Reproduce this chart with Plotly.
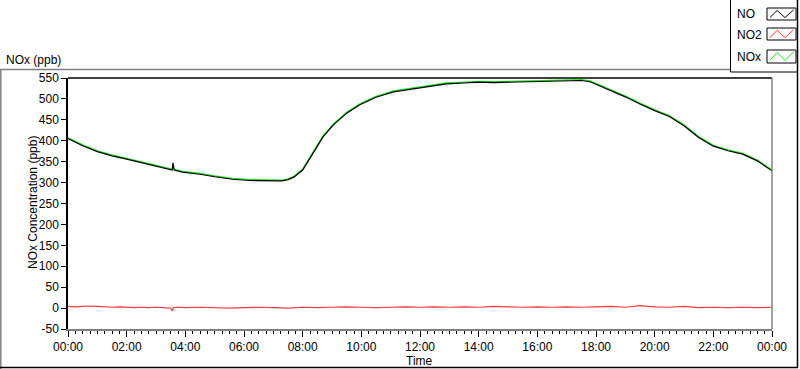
import pandas as pd
import plotly.graph_objects as go

# ---------------- data ----------------
no_hours = [0.0, 0.5, 1.0, 1.5, 2.0, 2.5, 2.8, 3.2, 3.55, 3.58, 3.62, 3.9, 4.5, 5.0, 5.6,
            6.2, 6.8, 7.3, 7.5, 7.7, 8.0, 8.35, 8.7, 9.05, 9.5, 9.95, 10.5, 11.1, 11.65,
            12.2, 12.9, 13.5, 14.0, 14.5, 15.0, 15.5, 16.0, 16.5, 17.0, 17.5, 17.8, 18.0,
            18.5, 19.0, 19.5, 20.0, 20.5, 21.0, 21.5, 22.0, 22.5, 23.0, 23.5, 24.0]
no_vals = [405, 388, 374, 364, 356, 348, 342, 335, 330, 347, 330, 325, 320, 314, 308,
           305, 305, 304, 307, 313, 330, 370, 410, 438, 466, 486, 504, 517, 523,
           530, 536, 538, 540, 539, 540, 541, 542, 542, 543, 544, 541, 535,
           520, 505, 488, 472, 458, 436, 408, 387, 376, 368, 352, 328]
nox_vals = [407, 390, 376, 366, 358, 350, 344, 337, 332, 334, 332, 327, 322, 316, 310,
            307, 307, 306, 309, 315, 332, 372, 412, 440, 468, 488, 506, 519, 525,
            532, 538, 540, 542, 541, 542, 543, 544, 544, 545, 546, 543, 537,
            522, 507, 490, 474, 460, 438, 410, 389, 378, 370, 354, 330]

no2_hours = [0.0, 0.25, 0.5, 0.75, 1.0, 1.25, 1.5, 1.75, 2.0, 2.25, 2.5, 2.75, 3.0, 3.25,
             3.5, 3.55, 3.6, 3.75, 4.0, 4.5, 5.0, 5.5, 6.0, 6.5, 7.0, 7.5, 8.0, 8.5, 9.0,
             9.5, 10.0, 10.5, 11.0, 11.5, 12.0, 12.5, 13.0, 13.5, 14.0, 14.5, 15.0, 15.5,
             16.0, 16.5, 17.0, 17.5, 18.0, 18.5, 19.0, 19.5, 20.0, 20.5, 21.0, 21.5,
             22.0, 22.5, 23.0, 23.5, 24.0]
no2_vals = [4, 3, 4, 5, 4, 3, 2, 3, 2, 1, 2, 1, 2, 1,
            0, -7, 1, 2, 1, 2, 1, 0, 1, 2, 1, 0, 2, 1, 2,
            3, 2, 1, 2, 3, 2, 3, 2, 3, 2, 4, 3, 2,
            3, 2, 3, 2, 3, 4, 2, 6, 3, 2, 4, 1,
            2, 1, 2, 1, 2]

y_ticks = [-50, 0, 50, 100, 150, 200, 250, 300, 350, 400, 450, 500, 550]

base = pd.Timestamp("2024-01-01 00:00")
t_no = base + pd.to_timedelta(no_hours, unit="h")
t_no2 = base + pd.to_timedelta(no2_hours, unit="h")

# ---------------- geometry helpers ----------------
W, H = 800, 369
ML, MR, MT, MB = 68, 28, 78, 40
PW, PH = W - ML - MR, H - MT - MB


def px(x):
    return (x - ML) / PW


def py(y):
    return (H - MB - y) / PH


FONT = "Liberation Sans, Arial, sans-serif"

fig = go.Figure()
fig.add_trace(go.Scatter(x=t_no2, y=no2_vals, mode="lines", name="NO2",
                         line=dict(color="#ff3a3a", width=1.2), showlegend=False))
fig.add_trace(go.Scatter(x=t_no, y=nox_vals, mode="lines", name="NOx",
                         line=dict(color="#20e020", width=1.3), showlegend=False))
fig.add_trace(go.Scatter(x=t_no, y=no_vals, mode="lines", name="NO",
                         line=dict(color="#000000", width=1.2), showlegend=False))

shapes = []
# plot-area border: top black, right gray
shapes.append(dict(type="line", xref="paper", yref="paper", x0=0, x1=1, y0=1, y1=1,
                   line=dict(color="#000000", width=1.5)))
shapes.append(dict(type="line", xref="paper", yref="paper", x0=1, x1=1, y0=0, y1=1,
                   line=dict(color="#808080", width=1.5)))
# outer frame
shapes.append(dict(type="line", xref="paper", yref="paper", x0=px(0), x1=px(730),
                   y0=py(69.5), y1=py(69.5), line=dict(color="#808080", width=1.5)))
shapes.append(dict(type="line", xref="paper", yref="paper", x0=px(0.8), x1=px(0.8),
                   y0=py(69.5), y1=py(369), line=dict(color="#808080", width=1.5)))
shapes.append(dict(type="line", xref="paper", yref="paper", x0=px(0), x1=px(798),
                   y0=py(367.5), y1=py(367.5), line=dict(color="#000000", width=1.5)))
shapes.append(dict(type="line", xref="paper", yref="paper", x0=px(797.5), x1=px(797.5),
                   y0=py(0), y1=py(368), line=dict(color="#000000", width=1.5)))
# legend box
shapes.append(dict(type="line", xref="paper", yref="paper", x0=px(730.5), x1=px(730.5),
                   y0=py(0), y1=py(72), line=dict(color="#000000", width=1)))
shapes.append(dict(type="line", xref="paper", yref="paper", x0=px(730.5), x1=px(798),
                   y0=py(72), y1=py(72), line=dict(color="#000000", width=1)))

legend_items = [("NO", "#000000", 8, 20, 14), ("NO2", "#ff3a3a", 28, 40, 35),
                ("NOx", "#20e020", 50, 63, 57)]
annotations = []
for name, col, ytop, ybot, ytxt in legend_items:
    x0, x1 = 767, 796
    shapes.append(dict(type="rect", xref="paper", yref="paper", x0=px(x0), x1=px(x1),
                       y0=py(ybot), y1=py(ytop), line=dict(color="#000000", width=1),
                       fillcolor="white"))
    hh = ybot - ytop
    ww = x1 - x0
    pts = [(x0 + 0.1 * ww, ytop + 0.8 * hh), (x0 + 0.35 * ww, ytop + 0.2 * hh),
           (x0 + 0.62 * ww, ytop + 0.8 * hh), (x0 + 0.92 * ww, ytop + 0.15 * hh)]
    path = "M " + " L ".join(f"{px(a):.5f},{py(b):.5f}" for a, b in pts)
    shapes.append(dict(type="path", xref="paper", yref="paper", path=path,
                       line=dict(color=col, width=1)))
    annotations.append(dict(text=name, xref="paper", yref="paper", x=px(735), y=py(ytxt),
                            xanchor="left", yanchor="middle", showarrow=False,
                            font=dict(family=FONT, size=12, color="#000000")))

annotations.append(dict(text="NOx (ppb)", xref="paper", yref="paper", x=px(4), y=py(60),
                        xanchor="left", yanchor="middle", showarrow=False,
                        font=dict(family=FONT, size=12, color="#000000")))
annotations.append(dict(text="NOx Concentration (ppb)", xref="paper", yref="paper",
                        x=px(33), y=py(203), xanchor="center", yanchor="middle",
                        textangle=-90, showarrow=False,
                        font=dict(family=FONT, size=12, color="#000000")))
annotations.append(dict(text="Time", xref="paper", yref="paper", x=px(419), y=py(361),
                        xanchor="center", yanchor="middle", showarrow=False,
                        font=dict(family=FONT, size=12, color="#000000")))

fig.update_layout(
    width=W, height=H, autosize=False,
    margin=dict(l=ML, r=MR, t=MT, b=MB, pad=0),
    plot_bgcolor="white", paper_bgcolor="white",
    shapes=shapes, annotations=annotations, showlegend=False,
    xaxis=dict(type="date", range=[base, base + pd.Timedelta(hours=24)],
               tick0=base, dtick=2 * 3600 * 1000, tickformat="%H:%M",
               showline=True, linecolor="#808080", linewidth=1.5,
               ticks="outside", ticklen=6, tickcolor="#000000", tickwidth=1,
               minor=dict(dtick=15 * 60 * 1000, ticks="outside", ticklen=3,
                          tickcolor="#000000", showgrid=False),
               showgrid=False, zeroline=False,
               tickfont=dict(family=FONT, size=12, color="#000000")),
    yaxis=dict(range=[-50, 550], tickmode="array", tickvals=y_ticks,
               ticktext=[str(v) for v in y_ticks],
               showline=True, linecolor="#000000", linewidth=1.5,
               ticks="outside", ticklen=5, tickcolor="#000000",
               showgrid=False, zeroline=False,
               tickfont=dict(family=FONT, size=12, color="#000000")),
)

fig.write_html(
    "out.html",
    config={"displayModeBar": False},
    post_script="document.body.style.margin='0';document.body.style.padding='0';"
                "document.body.style.overflow='hidden';",
)
